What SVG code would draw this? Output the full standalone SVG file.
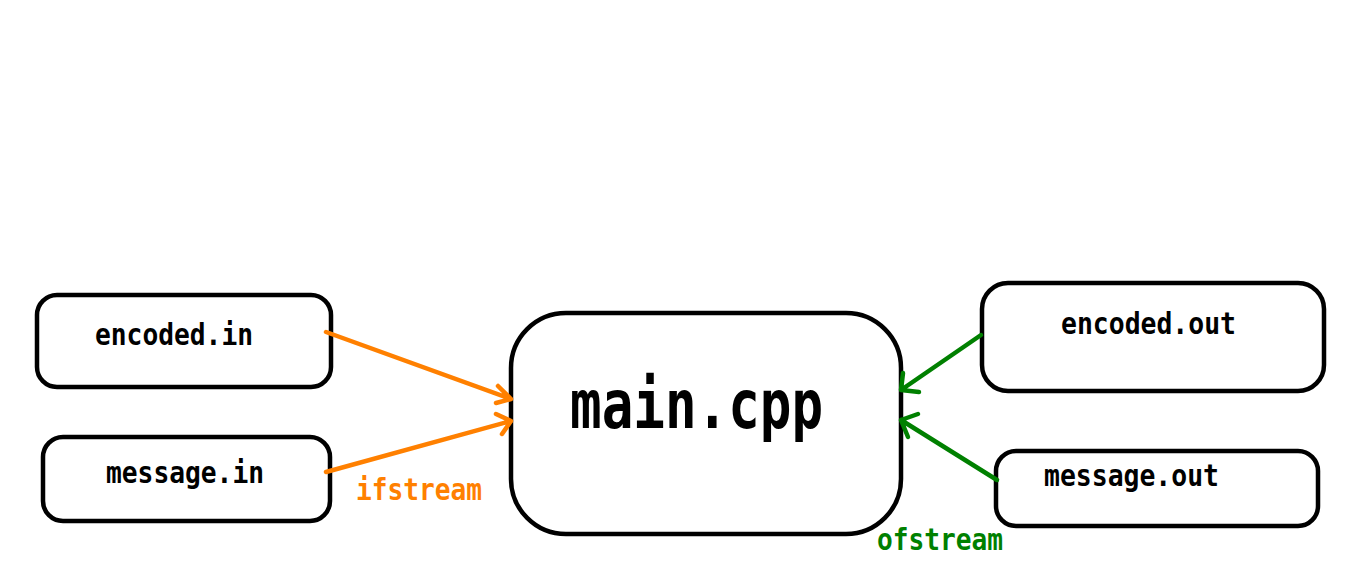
<svg xmlns="http://www.w3.org/2000/svg" width="1356" height="579" viewBox="0 0 1356 579">
<style>
.box{fill:#fff;stroke:#000;stroke-width:4.5}
.lbl{font-family:"DejaVu Sans Mono","Liberation Mono",monospace;font-weight:bold;font-size:31px;fill:#000}
.big{font-size:68px}
.or{stroke:#ff8000;stroke-width:4.5;fill:none;stroke-linecap:round;stroke-linejoin:round}
.gr{stroke:#008000;stroke-width:4.5;fill:none;stroke-linecap:round;stroke-linejoin:round}
</style>
<rect width="1356" height="579" fill="#fff"/>
<g id="encoded-in"><rect class="box" x="37" y="295" width="294" height="92" rx="20"/><text class="lbl" x="95" y="345" textLength="158" lengthAdjust="spacingAndGlyphs">encoded.in</text></g>
<g id="message-in"><rect class="box" x="43" y="437" width="287" height="84" rx="20"/><text class="lbl" x="106" y="483" textLength="158" lengthAdjust="spacingAndGlyphs">message.in</text></g>
<g id="main-cpp"><rect class="box" x="511" y="313" width="390" height="221" rx="55"/><text class="lbl big" x="570" y="428" textLength="253" lengthAdjust="spacingAndGlyphs">main.cpp</text></g>
<g id="encoded-out"><rect class="box" x="982" y="283" width="342" height="108" rx="26"/><text class="lbl" x="1061" y="334" textLength="175" lengthAdjust="spacingAndGlyphs">encoded.out</text></g>
<g id="message-out"><rect class="box" x="996" y="451" width="322" height="75" rx="20"/><text class="lbl" x="1044" y="486" textLength="175" lengthAdjust="spacingAndGlyphs">message.out</text></g>
<g id="connectors">
<path class="or" d="M326 332 L511 399 M498 386 L511 399 L496 403"/>
<path class="or" d="M326 472 L511 421 M496 414 L511 421 L502 434"/>
<path class="gr" d="M981 335 L901 390 M903 373 L901 390 L919 392"/>
<path class="gr" d="M997 480 L901 420 M918 414 L901 420 L908 437"/>
<text class="lbl" x="356" y="500" style="fill:#ff8000" textLength="126" lengthAdjust="spacingAndGlyphs">ifstream</text>
<text class="lbl" x="877" y="550" style="fill:#008000" textLength="126" lengthAdjust="spacingAndGlyphs">ofstream</text>
</g>
</svg>
